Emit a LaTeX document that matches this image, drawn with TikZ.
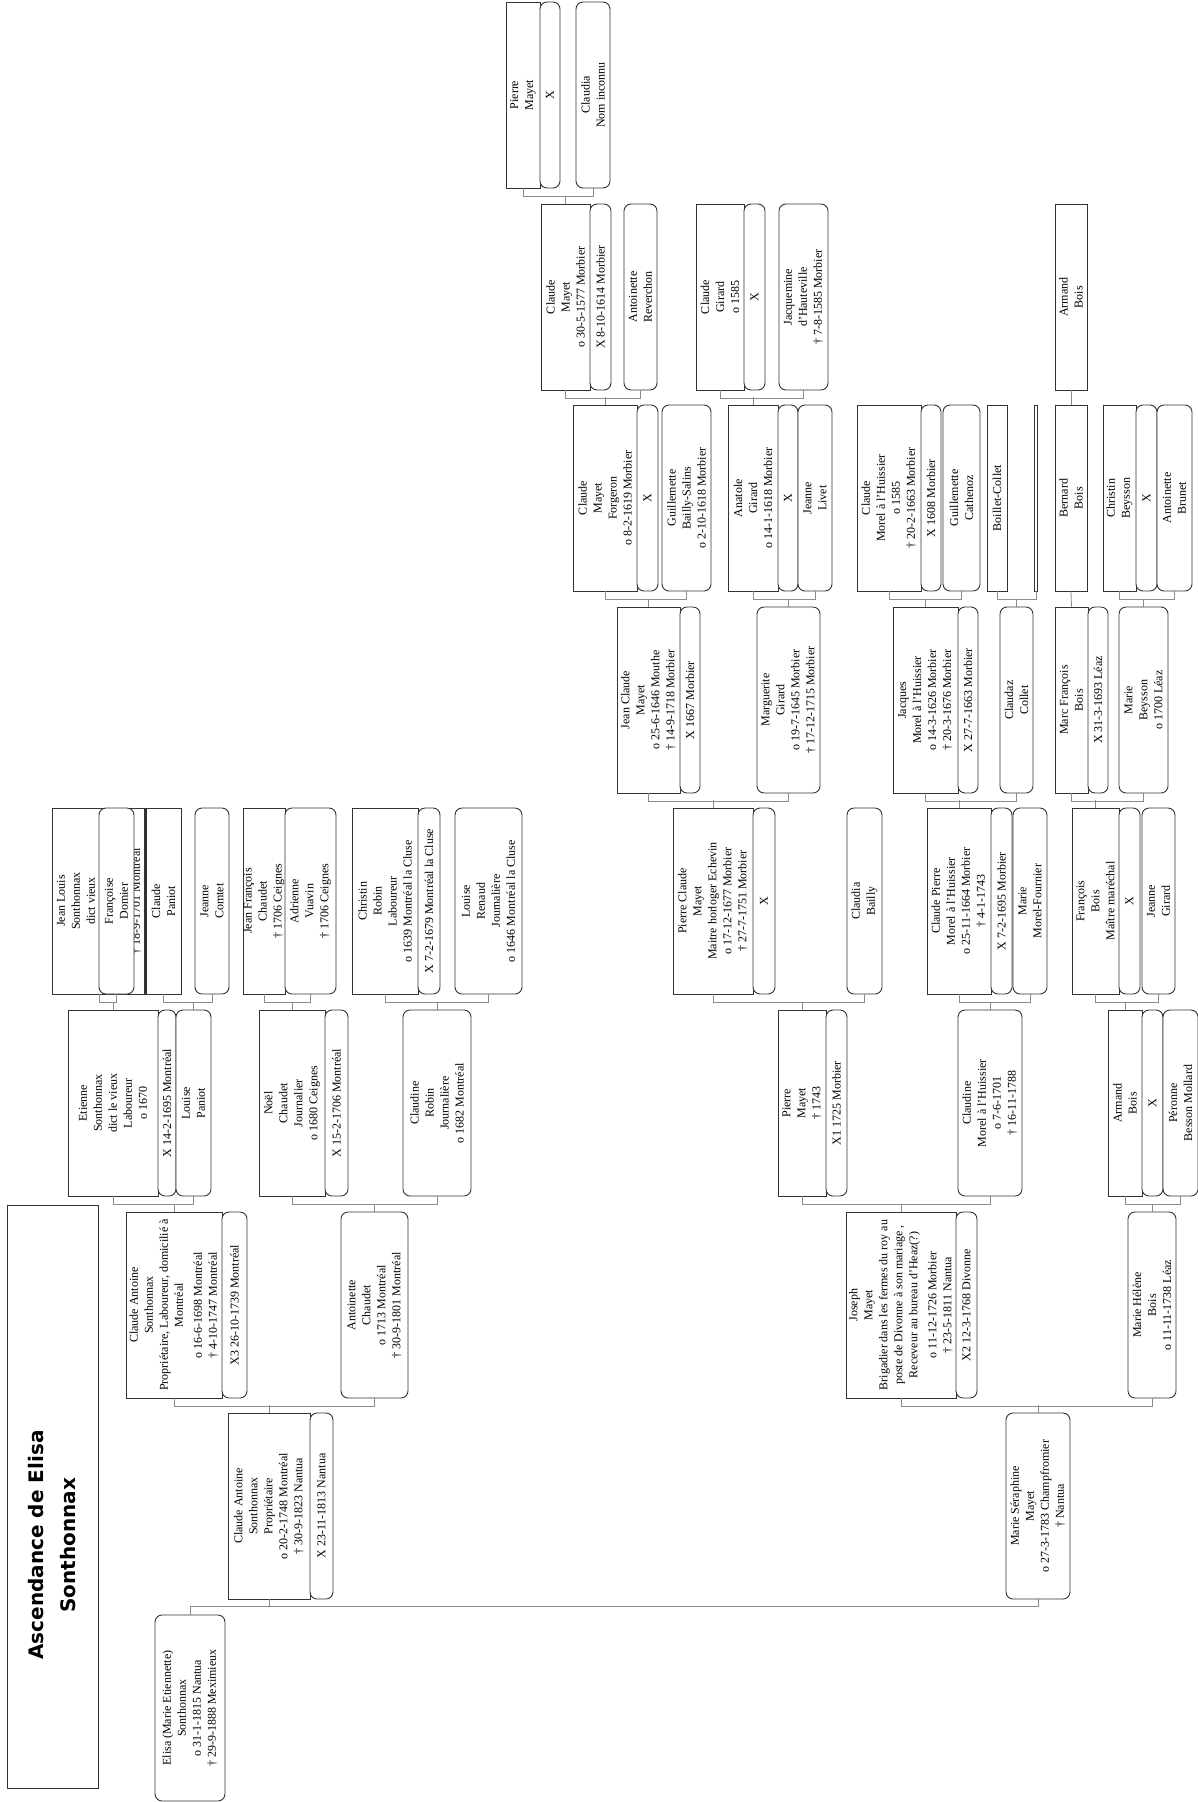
\documentclass[tikz,border=0pt]{standalone}
\usepackage{fontspec}
\setmainfont{Liberation Serif}
\newfontfamily\titlefont{DejaVu Sans}
\usetikzlibrary{positioning}
\definecolor{trait}{gray}{0.2}
\definecolor{grislien}{gray}{0.55}

\begin{document}
\begin{tikzpicture}[x=1pt,y=-1pt,
  fiche/.style={draw=trait,line width=0.9pt,fill=white,rotate=90,minimum width=186pt,inner sep=0pt,align=center,font=\fontsize{12}{15}\selectfont},
  homme/.style={fiche},
  femme/.style={fiche,rounded corners=7pt},
  union/.style={fiche,rounded corners=7pt},
  lien/.style={draw=grislien,line width=0.8pt}]
\useasboundingbox (0,0) rectangle (1198,1802);

% titre
\node[draw=trait,line width=0.9pt,rotate=90,minimum width=583pt,minimum height=91pt] (titre) at (52.5,1496.5) {};
\node[rotate=90,align=center,font=\titlefont\bfseries\fontsize{20}{32}\selectfont] (titretexte) at (52.5,1545) {Ascendance de Elisa\\Sonthonnax};

% generation 8
\node[homme,minimum height=34pt] (pmayet8) at (523,95) {Pierre\\Mayet};
\node[union,minimum height=20pt] (upmayet8) at (550,95) {X};
\node[femme,minimum height=34pt] (claudia) at (593,95) {Claudia\\Nom inconnu};

% generation 7
\node[homme,minimum height=49pt] (cmayet7) at (565.5,297) {Claude\\Mayet\\o 30-5-1577 Morbier};
\node[union,minimum height=21pt] (ucmayet7) at (600.5,297) {X 8-10-1614 Morbier};
\node[femme,minimum height=33pt] (reverchon) at (640.5,297) {Antoinette\\Reverchon};
\node[homme,minimum height=48pt] (cgirard7) at (720,297) {Claude\\Girard\\o 1585};
\node[union,minimum height=21pt] (ucgirard7) at (754.5,297) {X};
\node[femme,minimum height=49pt] (hauteville) at (803.5,297) {Jacquemine\\d'Hauteville\\† 7-8-1585 Morbier};
\node[homme,minimum height=32pt] (abois7) at (1071,297) {Armand\\Bois};

% generation 6
\node[homme,minimum height=64pt] (cmayet6) at (605,498) {Claude\\Mayet\\Forgeron\\o 8-2-1619 Morbier};
\node[union,minimum height=21pt] (ucmayet6) at (647.5,498) {X};
\node[femme,minimum height=49pt] (bsalins) at (686.5,498) {Guillemette\\Bailly-Salins\\o 2-10-1618 Morbier};
\node[homme,minimum height=50pt] (agirard6) at (753,498) {Anatole\\Girard\\o 14-1-1618 Morbier};
\node[union,minimum height=20pt] (uagirard6) at (788,498) {X};
\node[femme,minimum height=34pt] (livet) at (815,498) {Jeanne\\Livet};
\node[homme,minimum height=64pt] (cmorel6) at (889,498) {Claude\\Morel à l'Huissier\\o 1585\\† 20-2-1663 Morbier};
\node[union,minimum height=20pt] (ucmorel6) at (931,498) {X 1608 Morbier};
\node[femme,minimum height=37pt] (cathenoz) at (961.5,498) {Guillemette\\Cathenoz};
\node[homme,minimum height=20pt] (boillet) at (997,498) {Boillet-Collet};
\node[homme,minimum height=3pt] (inconnu6) at (1036,498) {};
\node[homme,minimum height=32pt] (bbois6) at (1071,498) {Bernard\\Bois};
\node[homme,minimum height=33pt] (cbeysson6) at (1119.5,498) {Christin\\Beysson};
\node[union,minimum height=21pt] (ucbeysson6) at (1146.5,498) {X};
\node[femme,minimum height=35pt] (brunet) at (1174.5,498) {Antoinette\\Brunet};

% generation 5
\node[homme,minimum height=63pt] (jcmayet) at (648.5,700) {Jean Claude\\Mayet\\o 25-6-1646 Mouthe\\† 14-9-1718 Morbier};
\node[union,minimum height=20pt] (ujcmayet) at (690,700) {X 1667 Morbier};
\node[femme,minimum height=63pt] (marguerite) at (788.5,700) {Marguerite\\Girard\\o 19-7-1645 Morbier\\† 17-12-1715 Morbier};
\node[homme,minimum height=65pt] (jacques) at (925.5,700) {Jacques\\Morel à l'Huissier\\o 14-3-1626 Morbier\\† 20-3-1676 Morbier};
\node[union,minimum height=20pt] (ujacques) at (968,700) {X 27-7-1663 Morbier};
\node[femme,minimum height=33pt] (claudaz) at (1016.5,700) {Claudaz\\Collet};
\node[homme,minimum height=33pt] (mfbois) at (1071.5,700) {Marc François\\Bois};
\node[union,minimum height=20pt] (umfbois) at (1098,700) {X 31-3-1693 Léaz};
\node[femme,minimum height=49pt] (mbeysson) at (1143.5,700) {Marie\\Beysson\\o 1700 Léaz};

% generation 4
\node[homme,minimum height=94pt] (jlouis) at (99,901) {Jean Louis\\Sonthonnax\\dict vieux\\\mbox{}\\\mbox{}\\† 18-9-1701 Montréal};
\node[femme,minimum height=35pt] (domier) at (116.5,901) {Françoise\\Domier};
\node[homme,minimum height=35pt] (cpaniot) at (163.5,901) {Claude\\Paniot};
\draw[trait,line width=2.2pt] (cpaniot.north west) -- (cpaniot.north east);
\node[femme,minimum height=34pt] (comtet) at (212,901) {Jeanne\\Comtet};
\node[homme,minimum height=42pt] (jfchaudet) at (264,901) {Jean François\\Chaudet\\† 1706 Ceignes};
\node[femme,minimum height=51pt] (vuavin) at (310.5,901) {Adrienne\\Vuavin\\† 1706 Ceignes};
\node[homme,minimum height=66pt] (chrobin) at (385,901) {Christin\\Robin\\Laboureur\\o 1639 Montréal la Cluse};
\node[union,minimum height=22pt] (uchrobin) at (429,901) {X 7-2-1679 Montréal la Cluse};
\node[femme,minimum height=67pt] (renaud) at (488.5,901) {Louise\\Renaud\\Journalière\\o 1646 Montréal la Cluse};
\node[homme,minimum height=80pt] (pcmayet) at (713,901) {Pierre Claude\\Mayet\\Maitre horloger Echevin\\o 17-12-1677 Morbier\\† 27-7-1751 Morbier};
\node[union,minimum height=22pt] (upcmayet) at (764,901) {X};
\node[femme,minimum height=35pt] (bailly) at (864.5,901) {Claudia\\Bailly};
\node[homme,minimum height=64pt] (cpmorel) at (959,901) {Claude Pierre\\Morel à l'Huissier\\o 25-11-1664 Morbier\\† 4-1-1743};
\node[union,minimum height=21pt] (ucpmorel) at (1001.5,901) {X 7-2-1695 Morbier};
\node[femme,minimum height=34pt] (morelf) at (1030,901) {Marie\\Morel-Fournier};
\node[homme,minimum height=47pt] (fbois) at (1095.5,901) {François\\Bois\\Maître maréchal};
\node[union,minimum height=21pt] (ufbois) at (1129.5,901) {X};
\node[femme,minimum height=33pt] (jgirard) at (1158.5,901) {Jeanne\\Girard};

% generation 3
\node[homme,minimum height=90pt] (etienne) at (113,1103) {Etienne\\Sonthonnax\\dict le vieux\\Laboureur\\o 1670};
\node[union,minimum height=18pt] (uetienne) at (167,1103) {X 14-2-1695 Montréal};
\node[femme,minimum height=35pt] (lpaniot) at (193.5,1103) {Louise\\Paniot};
\node[homme,minimum height=66pt] (noel) at (292,1103) {Noël\\Chaudet\\Journalier\\o 1680 Ceignes};
\node[union,minimum height=23pt] (unoel) at (336.5,1103) {X 15-2-1706 Montréal};
\node[femme,minimum height=68pt] (crobin) at (437,1103) {Claudine\\Robin\\Journalière\\o 1682 Montréal};
\node[homme,minimum height=48pt] (pmayet3) at (802,1103) {Pierre\\Mayet\\† 1743};
\node[union,minimum height=21pt] (upmayet3) at (836.5,1103) {X1 1725 Morbier};
\node[femme,minimum height=64pt] (cmorel3) at (990,1103) {Claudine\\Morel à l'Huissier\\o 7-6-1701\\† 16-11-1788};
\node[homme,minimum height=34pt] (abois3) at (1125,1103) {Armand\\Bois};
\node[union,minimum height=21pt] (uabois3) at (1152.5,1103) {X};
\node[femme,minimum height=35pt] (peronne) at (1180.5,1103) {Péronne\\Besson Mollard};

% generation 2
\node[homme,minimum height=96pt] (cantoine2) at (174,1305) {Claude Antoine\\Sonthonnax\\Propriétaire, Laboureur, domicilié à\\Montréal\\[4pt]o 16-6-1698 Montréal\\† 4-10-1747 Montréal};
\node[union,minimum height=25pt] (ucantoine2) at (234.5,1305) {X3 26-10-1739 Montréal};
\node[femme,minimum height=67pt] (antoinette) at (374.5,1305) {Antoinette\\Chaudet\\o 1713 Montréal\\† 30-9-1801 Montréal};
\node[homme,minimum height=110pt] (joseph) at (901,1305) {Joseph\\Mayet\\Brigadier dans les fermes du roy au\\poste de Divonne à son mariage ,\\Receveur au bureau d'Heaz(?)\\[4pt]o 11-12-1726 Morbier\\† 23-5-1811 Nantua};
\node[union,minimum height=21pt] (ujoseph) at (966.5,1305) {X2 12-3-1768 Divonne};
\node[femme,minimum height=48pt] (mhelene) at (1152,1305) {Marie Hélène\\Bois\\o 11-11-1738 Léaz};

% generation 1
\node[homme,minimum height=82pt] (cantoine1) at (269,1506) {Claude Antoine\\Sonthonnax\\Propriétaire\\o 20-2-1748 Montréal\\† 30-9-1823 Nantua};
\node[union,minimum height=23pt] (ucantoine1) at (321.5,1506) {X 23-11-1813 Nantua};
\node[femme,minimum height=64pt] (mseraphine) at (1038,1506) {Marie Séraphine\\Mayet\\o 27-3-1783 Champfromier\\† Nantua};

% generation 0
\node[femme,minimum height=70pt] (elisa) at (190,1708) {Elisa (Marie Etiennette)\\Sonthonnax\\o 31-1-1815 Nantua\\† 29-9-1888 Meximieux};

% liens parents -> enfant
\draw[lien] (pmayet8.west) -- ++(0,-7.8pt) -| (claudia.west);
\draw[lien] (cmayet7.east) -- ++(0,7.8pt);
\draw[lien] (cmayet7.west) -- ++(0,-7.8pt) -| (reverchon.west);
\draw[lien] (cmayet6.east) -- ++(0,7.8pt);
\draw[lien] (cgirard7.west) -- ++(0,-7.8pt) -| (hauteville.west);
\draw[lien] (agirard6.east) -- ++(0,7.8pt);
\draw[lien] (abois7.west) -- (bbois6.east);
\draw[lien] (cmayet6.west) -- ++(0,-7.8pt) -| (bsalins.west);
\draw[lien] (jcmayet.east) -- ++(0,7.8pt);
\draw[lien] (agirard6.west) -- ++(0,-7.8pt) -| (livet.west);
\draw[lien] (marguerite.east) -- ++(0,7.8pt);
\draw[lien] (cmorel6.west) -- ++(0,-7.8pt) -| (cathenoz.west);
\draw[lien] (jacques.east) -- ++(0,7.8pt);
\draw[lien] (boillet.west) -- ++(0,-7.8pt) -| (inconnu6.west);
\draw[lien] (claudaz.east) -- ++(0,7.8pt);
\draw[lien] (bbois6.west) -- (mfbois.east);
\draw[lien] (cbeysson6.west) -- ++(0,-7.8pt) -| (brunet.west);
\draw[lien] (mbeysson.east) -- ++(0,7.8pt);
\draw[lien] (jcmayet.west) -- ++(0,-7.8pt) -| (marguerite.west);
\draw[lien] (pcmayet.east) -- ++(0,7.8pt);
\draw[lien] (jacques.west) -- ++(0,-7.8pt) -| (claudaz.west);
\draw[lien] (cpmorel.east) -- ++(0,7.8pt);
\draw[lien] (mfbois.west) -- ++(0,-7.8pt) -| (mbeysson.west);
\draw[lien] (fbois.east) -- ++(0,7.8pt);
\draw[lien] (jlouis.west) -- ++(0,-7.8pt) -| (domier.west);
\draw[lien] (etienne.east) -- ++(0,7.8pt);
\draw[lien] (cpaniot.west) -- ++(0,-7.8pt) -| (comtet.west);
\draw[lien] (lpaniot.east) -- ++(0,7.8pt);
\draw[lien] (jfchaudet.west) -- ++(0,-7.8pt) -| (vuavin.west);
\draw[lien] (noel.east) -- ++(0,7.8pt);
\draw[lien] (chrobin.west) -- ++(0,-7.8pt) -| (renaud.west);
\draw[lien] (crobin.east) -- ++(0,7.8pt);
\draw[lien] (pcmayet.west) -- ++(0,-7.8pt) -| (bailly.west);
\draw[lien] (pmayet3.east) -- ++(0,7.8pt);
\draw[lien] (cpmorel.west) -- ++(0,-7.8pt) -| (morelf.west);
\draw[lien] (cmorel3.east) -- ++(0,7.8pt);
\draw[lien] (fbois.west) -- ++(0,-7.8pt) -| (jgirard.west);
\draw[lien] (abois3.east) -- ++(0,7.8pt);
\draw[lien] (etienne.west) -- ++(0,-7.8pt) -| (lpaniot.west);
\draw[lien] (cantoine2.east) -- ++(0,7.8pt);
\draw[lien] (noel.west) -- ++(0,-7.8pt) -| (crobin.west);
\draw[lien] (antoinette.east) -- ++(0,7.8pt);
\draw[lien] (pmayet3.west) -- ++(0,-7.8pt) -| (cmorel3.west);
\draw[lien] (joseph.east) -- ++(0,7.8pt);
\draw[lien] (abois3.west) -- ++(0,-7.8pt) -| (peronne.west);
\draw[lien] (mhelene.east) -- ++(0,7.8pt);
\draw[lien] (cantoine2.west) -- ++(0,-7.8pt) -| (antoinette.west);
\draw[lien] (cantoine1.east) -- ++(0,7.8pt);
\draw[lien] (joseph.west) -- ++(0,-7.8pt) -| (mhelene.west);
\draw[lien] (mseraphine.east) -- ++(0,7.8pt);
\draw[lien] (elisa.east) -- ++(0,7.8pt) -| (mseraphine.west);
\draw[lien] (cantoine1.west) -- ++(0,-7.8pt);
\end{tikzpicture}
\end{document}
